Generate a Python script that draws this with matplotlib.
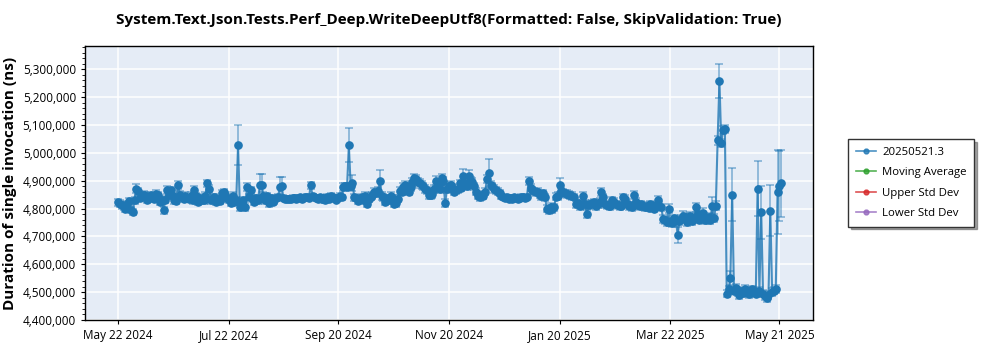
import matplotlib
matplotlib.use("Agg")
import matplotlib.pyplot as plt
import matplotlib.dates as mdates
import matplotlib.ticker as mticker
import pandas as pd
import numpy as np

plt.rcParams['font.family'] = ['Open Sans', 'DejaVu Sans']

# ---- data (values in thousands of ns, one run per day) ----
start_date = "2024-05-22"
durations_k = [
    4822, 4818, 4812, 4808, 4798, 4815, 4826, 4794, 4788, 4830,
    4872, 4862, 4838, 4845, 4850, 4845, 4830, 4842, 4848, 4838,
    4835, 4852, 4848, 4825, 4830, 4794, 4832, 4866, 4850, 4866,
    4845, 4830, 4828, 4886, 4850, 4840, 4835, 4845, 4838, 4835,
    4845, 4830, 4868, 4845, 4825, 4838, 4832, 4830, 4845, 4890,
    4872, 4830, 4838, 4840, 4825, 4835, 4828, 4855, 4858, 4848,
    4838, 4832, 4820, 4845, 4825, 4830, 5027, 4806, 4818, 4830,
    4806, 4878, 4840, 4866, 4835, 4825, 4838, 4830, 4884, 4884,
    4845, 4830, 4845, 4820, 4838, 4822, 4830, 4838, 4842, 4878,
    4880, 4838, 4835, 4836, 4834, 4836, 4838, 4837, 4835, 4838,
    4840, 4836, 4838, 4840, 4842, 4838, 4884, 4845, 4840, 4838,
    4835, 4840, 4836, 4838, 4830, 4842, 4835, 4845, 4840, 4838,
    4832, 4838, 4845, 4840, 4878, 4880, 4878, 5027, 4880, 4892,
    4840, 4838, 4828, 4835, 4840, 4832, 4845, 4818, 4835, 4842,
    4848, 4860, 4855, 4862, 4898, 4845, 4840, 4825, 4838, 4830,
    4845, 4838, 4818, 4820, 4835, 4862, 4860, 4878, 4884, 4870,
    4860, 4878, 4895, 4908, 4905, 4895, 4890, 4885, 4880, 4870,
    4865, 4850, 4848, 4852, 4870, 4900, 4885, 4870, 4908, 4900,
    4820, 4870, 4880, 4885, 4875, 4860, 4865, 4870, 4890, 4875,
    4917, 4890, 4880, 4918, 4900, 4895, 4880, 4860, 4845, 4840,
    4850, 4845, 4860, 4905, 4928, 4885, 4880, 4870, 4865, 4860,
    4855, 4845, 4842, 4838, 4840, 4836, 4838, 4835, 4840, 4838,
    4836, 4838, 4842, 4840, 4838, 4842, 4900, 4875, 4865, 4862,
    4858, 4860, 4850, 4845, 4855, 4840, 4800, 4795, 4805, 4798,
    4805, 4842, 4845, 4884, 4862, 4858, 4855, 4852, 4850, 4848,
    4845, 4842, 4815, 4820, 4808, 4812, 4845, 4818, 4780, 4812,
    4815, 4820, 4822, 4808, 4815, 4825, 4860, 4840, 4815, 4812,
    4810, 4808, 4830, 4825, 4815, 4812, 4808, 4810, 4840, 4835,
    4815, 4808, 4812, 4805, 4848, 4825, 4812, 4808, 4815, 4810,
    4805, 4808, 4802, 4815, 4812, 4800, 4808, 4830, 4810, 4805,
    4762, 4758, 4750, 4800, 4752, 4748, 4765, 4760, 4705, 4755,
    4762, 4775, 4770, 4752, 4768, 4772, 4755, 4765, 4805, 4780,
    4760, 4778, 4785, 4758, 4762, 4770, 4760, 4808, 4765, 4810,
    5045, 5257, 5035, 5082, 5085, 4495, 4510, 4550, 4850, 4505,
    4515, 4500, 4490, 4505, 4498, 4512, 4500, 4492, 4505, 4510,
    4500, 4495, 4872, 4505, 4786, 4495, 4485, 4478, 4490, 4793,
    4500, 4505, 4510, 4860, 4880, 4890,
]
errors_k = [
    12, 11, 12, 13, 11, 12, 13, 11, 12, 13,
    16, 13, 12, 13, 12, 13, 11, 13, 12, 13,
    12, 13, 11, 12, 13, 12, 13, 14, 12, 13,
    11, 13, 12, 14, 13, 11, 12, 13, 12, 11,
    13, 12, 13, 11, 12, 13, 11, 12, 13, 13,
    11, 12, 13, 11, 12, 13, 11, 13, 12, 11,
    13, 12, 11, 13, 12, 11, 72, 13, 12, 11,
    13, 14, 11, 13, 12, 13, 11, 12, 40, 40,
    13, 12, 11, 13, 12, 11, 13, 12, 11, 36,
    34, 9, 9, 9, 9, 9, 9, 9, 9, 9,
    9, 9, 9, 9, 9, 9, 12, 9, 9, 9,
    9, 9, 9, 9, 10, 9, 9, 10, 9, 9,
    10, 9, 10, 9, 14, 12, 13, 61, 12, 28,
    13, 12, 11, 13, 12, 11, 13, 14, 12, 13,
    13, 14, 13, 14, 40, 13, 12, 13, 12, 13,
    13, 12, 14, 13, 12, 14, 13, 14, 15, 14,
    13, 14, 15, 16, 14, 14, 15, 14, 13, 14,
    13, 14, 13, 14, 13, 16, 14, 13, 15, 14,
    14, 13, 14, 13, 14, 13, 14, 13, 14, 13,
    25, 14, 13, 20, 15, 14, 13, 13, 12, 13,
    13, 12, 13, 15, 49, 14, 13, 13, 12, 13,
    11, 9, 9, 9, 9, 9, 9, 9, 9, 9,
    9, 9, 9, 9, 9, 9, 14, 13, 13, 12,
    13, 13, 12, 13, 13, 12, 14, 13, 14, 13,
    13, 13, 14, 26, 13, 13, 12, 13, 12, 13,
    13, 12, 13, 12, 13, 12, 14, 13, 15, 13,
    13, 12, 13, 12, 13, 13, 15, 13, 12, 13,
    12, 13, 13, 12, 13, 12, 13, 12, 14, 13,
    12, 13, 12, 13, 14, 13, 12, 13, 12, 13,
    12, 13, 12, 13, 12, 13, 12, 14, 13, 12,
    14, 13, 14, 15, 13, 14, 13, 14, 30, 13,
    14, 15, 14, 13, 14, 15, 13, 14, 16, 14,
    13, 15, 16, 14, 13, 15, 14, 34, 14, 16,
    16, 61, 15, 15, 14, 14, 13, 25, 94, 13,
    14, 13, 14, 13, 14, 13, 14, 13, 14, 13,
    14, 13, 100, 13, 95, 14, 13, 14, 13, 92,
    14, 13, 14, 150, 125, 120,
]
legend_labels = ["20250521.3", "Moving Average", "Upper Std Dev", "Lower Std Dev"]
legend_colors = ["#1f77b4", "#2ca02c", "#d62728", "#9467bd"]
tick_dates = ["2024-05-22", "2024-07-22", "2024-09-20", "2024-11-20",
              "2025-01-20", "2025-03-22", "2025-05-21"]
y_ticks = [4400000, 4500000, 4600000, 4700000, 4800000, 4900000,
           5000000, 5100000, 5200000, 5300000]

dates = pd.date_range(start_date, periods=len(durations_k), freq="D")
vals = np.array(durations_k) * 1000.0
errs = np.array(errors_k) * 1000.0

fig = plt.figure(figsize=(10, 3.5), dpi=100)
ax = fig.add_axes([0.085, 0.0857, 0.728, 0.7829])
ax.set_facecolor("#E5ECF6")

blue = legend_colors[0]
ax.errorbar(dates, vals, yerr=errs, fmt="none", ecolor=blue, alpha=0.5,
            elinewidth=1.2, capsize=3, capthick=1.2, zorder=2)
ax.plot(dates, vals, color=blue, linewidth=1.5, alpha=0.8, zorder=3)
ax.plot(dates, vals, linestyle="none", marker="o", markersize=5.2,
        color=blue, zorder=4)

ax.set_xlim(pd.Timestamp("2024-05-03 18:00"), pd.Timestamp("2025-06-08 12:00"))
ax.set_ylim(4400000, 5383500)
ax.set_xticks(pd.to_datetime(tick_dates))
ax.xaxis.set_major_formatter(mdates.DateFormatter("%b %d %Y"))
ax.set_yticks(y_ticks)
ax.yaxis.set_major_formatter(mticker.FuncFormatter(lambda v, p: f"{int(round(v)):,}"))
ax.yaxis.set_minor_locator(mticker.MultipleLocator(20000))
ax.tick_params(axis="both", labelsize=8.5, length=3, width=0.8, colors="black")
ax.tick_params(axis="y", which="minor", length=2, width=0.6)
ax.grid(True, color="white", linewidth=1.1)
ax.set_axisbelow(True)
for s in ax.spines.values():
    s.set_color("black")
    s.set_linewidth(1.0)

ax.set_title("System.Text.Json.Tests.Perf_Deep.WriteDeepUtf8(Formatted: False, SkipValidation: True)",
             fontsize=11, fontweight="bold", pad=16)
ax.set_ylabel("Duration of single invocation (ns)", fontsize=11, fontweight="bold", labelpad=4)

handles = [plt.Line2D([], [], color=c, marker="o", markersize=3.5, linewidth=1.2, alpha=0.8)
           for c in legend_colors]
leg = ax.legend(handles, legend_labels, loc="center left", bbox_to_anchor=(1.04, 0.5),
                fontsize=8.2, frameon=True, fancybox=False, shadow=True,
                edgecolor="#333333", handlelength=1.8, handletextpad=0.5,
                borderpad=0.7, labelspacing=0.8)
leg.get_frame().set_linewidth(1.0)

fig.savefig("out.png", dpi=100)
